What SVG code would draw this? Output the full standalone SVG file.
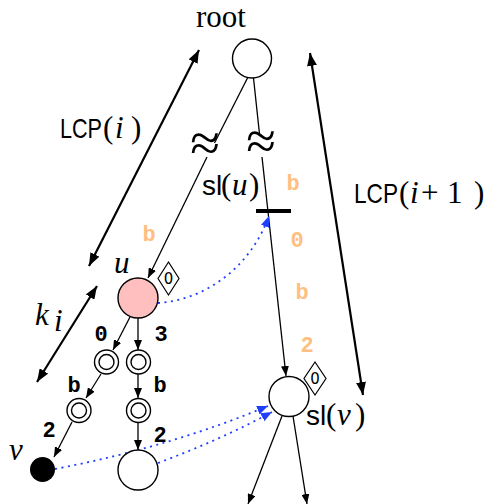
<svg xmlns="http://www.w3.org/2000/svg" width="487" height="504" viewBox="0 0 487 504">
<defs>
<marker id="ah" markerUnits="userSpaceOnUse" markerWidth="10" markerHeight="8" refX="10" refY="4" orient="auto"><path d="M0,0 L10,4 L0,8 z" fill="#000"/></marker>
<marker id="ahb" markerUnits="userSpaceOnUse" markerWidth="13" markerHeight="10" refX="13" refY="5" orient="auto"><path d="M0,0 L13,5 L0,10 z" fill="#000"/></marker>
<marker id="ahs" markerUnits="userSpaceOnUse" markerWidth="13" markerHeight="10" refX="0" refY="5" orient="auto"><path d="M13,0 L0,5 L13,10 z" fill="#000"/></marker>
<marker id="ahblue" markerUnits="userSpaceOnUse" markerWidth="11" markerHeight="9" refX="11" refY="4.5" orient="auto"><path d="M0,0 L11,4.5 L0,9 z" fill="#1f3fff"/></marker>
</defs>
<style>
.n{fill:#fff;stroke:#000;stroke-width:1.4}
.e{fill:none;stroke:#000;stroke-width:1.3}
.big{fill:none;stroke:#000;stroke-width:2.2;marker-start:url(#ahs);marker-end:url(#ahb)}
.dot{fill:none;stroke:#1f3fff;stroke-width:1.8;stroke-dasharray:2 4.5;marker-end:url(#ahblue)}
.sf{font-family:"Liberation Sans","DejaVu Sans",sans-serif;font-size:28px;fill:#000}
.rm{font-family:"Liberation Serif","DejaVu Serif",serif;font-size:31px;fill:#000}
.it{font-family:"Liberation Serif","DejaVu Serif",serif;font-style:italic;font-size:31px;fill:#000}
.tt{font-family:"Liberation Mono","DejaVu Sans Mono",monospace;font-weight:bold;font-size:22px;fill:#000;text-anchor:middle}
.or{fill:#ffbf80}
.dm{fill:#fff;stroke:#000;stroke-width:1.2}
.dt{font-family:"DejaVu Sans","Liberation Sans",sans-serif;font-size:15px;fill:#000;text-anchor:middle}
.ap{font-family:"Liberation Serif","DejaVu Serif",serif;font-size:54px;fill:#000;text-anchor:middle}
</style>

<g id="connectors">
<path class="e" d="M248,77 L214.5,143"/>
<path class="e" d="M207,157 L148,278" marker-end="url(#ah)"/>
<path class="e" d="M253.5,78 L259.5,134"/>
<path class="e" d="M262,157 L286,376" marker-end="url(#ah)"/>
<path class="e" d="M130,317 L113,350" marker-end="url(#ah)"/>
<path class="e" d="M138,318 L138,350" marker-end="url(#ah)"/>
<path class="e" d="M101,374 L86,398" marker-end="url(#ah)"/>
<path class="e" d="M138,374 L138,398" marker-end="url(#ah)"/>
<path class="e" d="M72,422 L54,457" marker-end="url(#ah)"/>
<path class="e" d="M138,423 L138,450" marker-end="url(#ah)"/>
<path class="e" d="M282,416 L248,504" marker-end="url(#ah)"/>
<path class="e" d="M293,416 L307,504" marker-end="url(#ah)"/>
<path class="dot" d="M158,303 C205,300 250,268 269,216"/>
<path class="dot" d="M55,469 Q170,447 268,406"/>
<path class="dot" d="M158,463 Q220,440 272,412"/>
<path class="big" d="M89,266 L199,50"/>
<path class="big" d="M97,286 L37,382"/>
<path class="big" d="M310,53 L363,395"/>
<line x1="256" y1="211" x2="291" y2="211" stroke="#000" stroke-width="4"/>
<text class="ap" x="205" y="161">≈</text>
<text class="ap" x="261" y="159">≈</text>
</g>

<g id="root">
<circle class="n" cx="252" cy="58.5" r="19.5"/>
<text class="rm" x="221" y="27" text-anchor="middle" font-size="28">root</text>
</g>

<g id="u">
<circle cx="138" cy="298" r="20" fill="#ffbfbf" stroke="#000" stroke-width="1.4"/>
<text class="it" x="114" y="273">u</text>
<path class="dm" d="M168.5,262 L179,278.5 L168.5,295 L158,278.5 z"/>
<text class="dt" x="168.5" y="284">0</text>
</g>

<g id="a1"><circle class="n" cx="106.5" cy="362" r="12"/><circle class="n" cx="106.5" cy="362" r="7.5"/></g>
<g id="b1"><circle class="n" cx="138.5" cy="362" r="12"/><circle class="n" cx="138.5" cy="362" r="7.5"/></g>
<g id="a2"><circle class="n" cx="79" cy="410.5" r="12"/><circle class="n" cx="79" cy="410.5" r="7.5"/></g>
<g id="b2"><circle class="n" cx="138.5" cy="410.5" r="12"/><circle class="n" cx="138.5" cy="410.5" r="7.5"/></g>

<g id="v">
<circle cx="42.5" cy="469.5" r="12.5" fill="#000"/>
<text class="it" x="9" y="460">v</text>
</g>

<g id="w">
<circle class="n" cx="138" cy="470" r="20"/>
</g>

<g id="slv">
<circle class="n" cx="289" cy="396.5" r="20"/>
<path class="dm" d="M315,362 L326,378.5 L315,395 L304,378.5 z"/>
<text class="dt" x="315" y="384">0</text>
<text y="425"><tspan class="sf" x="306">sl</tspan><tspan class="rm" x="326">(</tspan><tspan class="it" x="337" font-size="30">v</tspan><tspan class="rm" x="355">)</tspan></text>
</g>

<g id="labels">
<text y="138"><tspan class="sf" x="60" textLength="42" lengthAdjust="spacingAndGlyphs">LCP</tspan><tspan class="rm" x="103">(</tspan><tspan class="it" x="115">i</tspan><tspan class="rm" x="131">)</tspan></text>

<text y="203"><tspan class="sf" x="354" textLength="44" lengthAdjust="spacingAndGlyphs">LCP</tspan><tspan class="rm" x="399">(</tspan><tspan class="it" x="410">i</tspan><tspan class="rm" x="421">+</tspan><tspan class="rm" x="447">1</tspan><tspan class="rm" x="474">)</tspan></text>

<text y="195"><tspan class="sf" x="202">sl</tspan><tspan class="rm" x="221">(</tspan><tspan class="it" x="232" font-size="29">u</tspan><tspan class="rm" x="249">)</tspan></text>

<text y="325"><tspan class="it" x="35" font-size="29">k</tspan><tspan class="it" x="54" y="331" font-size="20">i</tspan></text>

<text class="tt or" x="293" y="190">b</text>
<text class="tt or" x="297" y="247">0</text>
<text class="tt or" x="302" y="299">b</text>
<text class="tt or" x="307" y="352">2</text>
<text class="tt or" x="149" y="241">b</text>

<text class="tt" x="101" y="341">0</text>
<text class="tt" x="161" y="341">3</text>
<text class="tt" x="74" y="392">b</text>
<text class="tt" x="160" y="392">b</text>
<text class="tt" x="49" y="437">2</text>
<text class="tt" x="160" y="442">2</text>
</g>
</svg>
